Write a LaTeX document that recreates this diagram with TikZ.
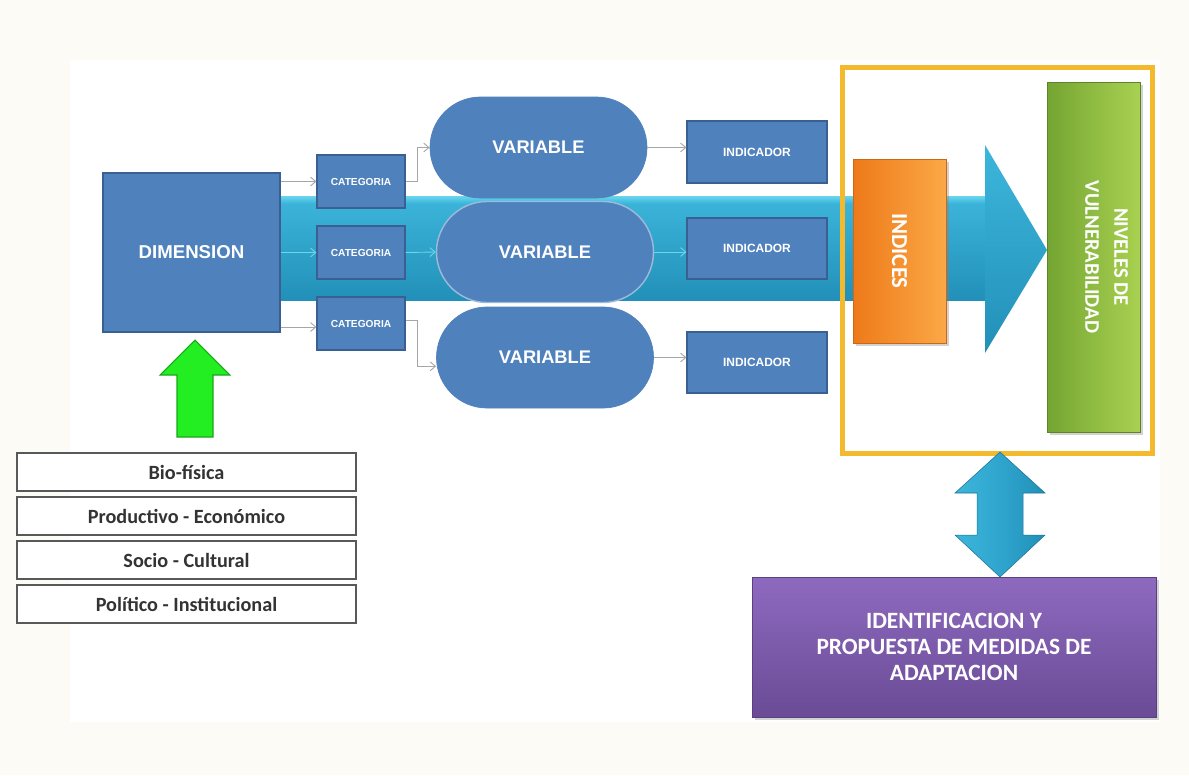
\documentclass[tikz,border=0pt]{standalone}
\usepackage{fontspec}
\setmainfont{Liberation Sans}
\newfontfamily\calib{Carlito}
\usetikzlibrary{shapes.misc,arrows.meta,shadows,calc}

\definecolor{blueA}{HTML}{4F81BD}
\definecolor{blueB}{HTML}{3A6093}
\definecolor{cyanT}{HTML}{6AD6EE}
\definecolor{cyanU}{HTML}{3DB6DB}
\definecolor{cyanM}{HTML}{2FA5CE}
\definecolor{cyanB}{HTML}{2290B8}
\definecolor{frameY}{HTML}{F2BA2C}
\definecolor{orL}{HTML}{EE7A1A}
\definecolor{orR}{HTML}{FBA846}
\definecolor{grL}{HTML}{74A532}
\definecolor{grR}{HTML}{A9D151}
\definecolor{puT}{HTML}{8E6ABF}
\definecolor{puB}{HTML}{6A4B96}
\definecolor{cream}{HTML}{FDFBF5}
\definecolor{connG}{HTML}{A6A6A6}
\definecolor{txtG}{HTML}{333333}
\definecolor{limeA}{HTML}{22EE22}
\definecolor{limeB}{HTML}{1BA51B}

\tikzset{
  bluebox/.style={draw=blueB, line width=0.6pt, fill=blueA, text=white, inner sep=0pt},
  catbox/.style={bluebox, minimum width=88*0.02cm, minimum height=53*0.02cm,
     font=\bfseries\fontsize{5.8}{7}\selectfont},
  indbox/.style={bluebox, minimum width=140*0.02cm, minimum height=61*0.02cm,
     font=\bfseries\fontsize{6.8}{8}\selectfont},
  varbox/.style={rounded rectangle, fill=blueA, draw=blueA, text=white, inner sep=0pt,
     minimum width=217*0.02cm, minimum height=101*0.02cm,
     font=\bfseries\fontsize{10.4}{12}\selectfont},
  lbox/.style={draw=black!65, line width=0.8pt, fill=white, inner sep=0pt,
     minimum width=339*0.02cm, minimum height=38*0.02cm, text=txtG,
     font=\calib\bfseries\fontsize{11.5}{13}\selectfont},
  conn/.style={draw=connG, line width=0.5pt, -{Straight Barb[length=3pt,width=5pt]}},
  softshadow/.style={drop shadow={opacity=0.35, shadow xshift=1.5pt, shadow yshift=-1.5pt}}
}

\begin{document}
\begin{tikzpicture}[x=0.02cm,y=-0.02cm]
% background
\fill[cream] (0,0) rectangle (1189,775);
\fill[white] (70,60) rectangle (1160,722);
\useasboundingbox (0,0) rectangle (1189,775);

% big cyan arrow (band + head)
\shade[top color=cyanU, bottom color=cyanB]
  (280,196) rectangle (990,300);
\shade[top color=cyanT, bottom color=cyanU]
  (280,196) rectangle (985,203);
\shade[top color=cyanU, bottom color=cyanB]
  (985,145) -- (1047,250) -- (985,353) -- cycle;

% DIMENSION
\node[bluebox, minimum width=177*0.02cm, minimum height=159*0.02cm,
      font=\bfseries\fontsize{10.6}{12}\selectfont] (dim) at (191.5,252.5) {DIMENSION};

% CATEGORIA
\node[catbox] (cat1) at (361,181.5) {CATEGORIA};
\node[catbox] (cat2) at (361,252.5) {CATEGORIA};
\node[catbox] (cat3) at (361,323.5) {CATEGORIA};

% VARIABLE
\node[varbox] (var1) at (538.5,147.5) {VARIABLE};
\node[varbox, draw=blueA!55!white, line width=0.8pt] (var2) at (545,252) {VARIABLE};
\node[varbox] (var3) at (545,357.5) {VARIABLE};

% INDICADOR
\node[indbox, minimum height=62*0.02cm] (ind1) at (757,152) {INDICADOR};
\node[indbox] (ind2) at (757,248.5) {INDICADOR};
\node[indbox] (ind3) at (757,362.5) {INDICADOR};

% connectors
\draw[conn] (dim.east |- cat1.west) -- (cat1.west);
\draw[conn, draw=cyanT] (dim.east) -- (cat2.west);
\draw[conn] ([yshift=-2pt]dim.east |- cat3.west) -- ([yshift=-2pt]cat3.west);
\draw[conn] (cat1.east) -- ++(12,0) |- (var1.west);
\draw[conn, draw=cyanT] (cat2.east) -- (var2.west);
\draw[conn] ([yshift=2pt]cat3.east) -- ++(12,0) |- ([yshift=-5pt]var3.west);
\draw[conn] (var1.east) -- (var1.east -| ind1.west);
\draw[conn, draw=cyanT] (var2.east) -- (var2.east -| ind2.west);
\draw[conn] (var3.east) -- (var3.east -| ind3.west);

% INDICES
\node[draw=orL!85!black, line width=0.4pt, left color=orL, right color=orR,
      minimum width=93*0.02cm, minimum height=184*0.02cm, inner sep=0pt,
      softshadow] (ind) at (899.5,251) {};
\node[rotate=-90, text=white, font=\calib\bfseries\fontsize{13}{15}\selectfont]
      at (ind.center) {INDICES};

% NIVELES
\node[draw=grL!80!black, line width=0.4pt, left color=grL, right color=grR,
      minimum width=93*0.02cm, minimum height=350*0.02cm, inner sep=0pt,
      softshadow] (niv) at (1093.5,257) {};
\node[rotate=-90, text=white, align=center,
      font=\calib\bfseries\fontsize{11.8}{16.5}\selectfont]
      at ([xshift=7.5pt]niv.center) {NIVELES DE\\VULNERABILIDAD};

% yellow frame
\node[draw=frameY, line width=0.1cm, minimum width=310*0.02cm,
      minimum height=386*0.02cm, inner sep=0pt] (frame) at (997,260) {};

% purple box
\node[top color=puT, bottom color=puB, draw=puB!85!black, line width=0.4pt,
      minimum width=404*0.02cm, minimum height=140*0.02cm, inner sep=0pt,
      text=white, align=center, softshadow,
      font=\calib\bfseries\fontsize{13.3}{14.8}\selectfont] (pur) at (954,647)
      {IDENTIFICACION Y\\PROPUESTA DE MEDIDAS DE\\ADAPTACION};

% double arrow between frame and purple box
\coordinate (dtop) at (1000,452);
\coordinate (dbot) at (1000,577);
\shade[left color=cyanU, right color=cyanB, middle color=cyanM,
       draw=cyanB!80!black, line width=0.3pt]
  (dtop) -- ++(45,41) -- ++(-22,0) -- ++(0,42) -- ++(22,0) -- (dbot)
  -- ++(-45,-42) -- ++(22,0) -- ++(0,-42) -- ++(-22,0) -- cycle;

% left category boxes
\node[lbox] (b1) at (186.5,472) {Bio-física};
\node[lbox] (b2) at (186.5,516) {Productivo - Económico};
\node[lbox] (b3) at (186.5,560) {Socio - Cultural};
\node[lbox] (b4) at (186.5,604) {Político - Institucional};

% green up arrow
\coordinate (gtip) at (195,340);
\filldraw[fill=limeA, draw=limeB, line width=0.6pt]
  (gtip) -- (230,375) -- (213,375) -- (213,437) -- (177,437) -- (177,375)
  -- (160,375) -- cycle;
\end{tikzpicture}
\end{document}
